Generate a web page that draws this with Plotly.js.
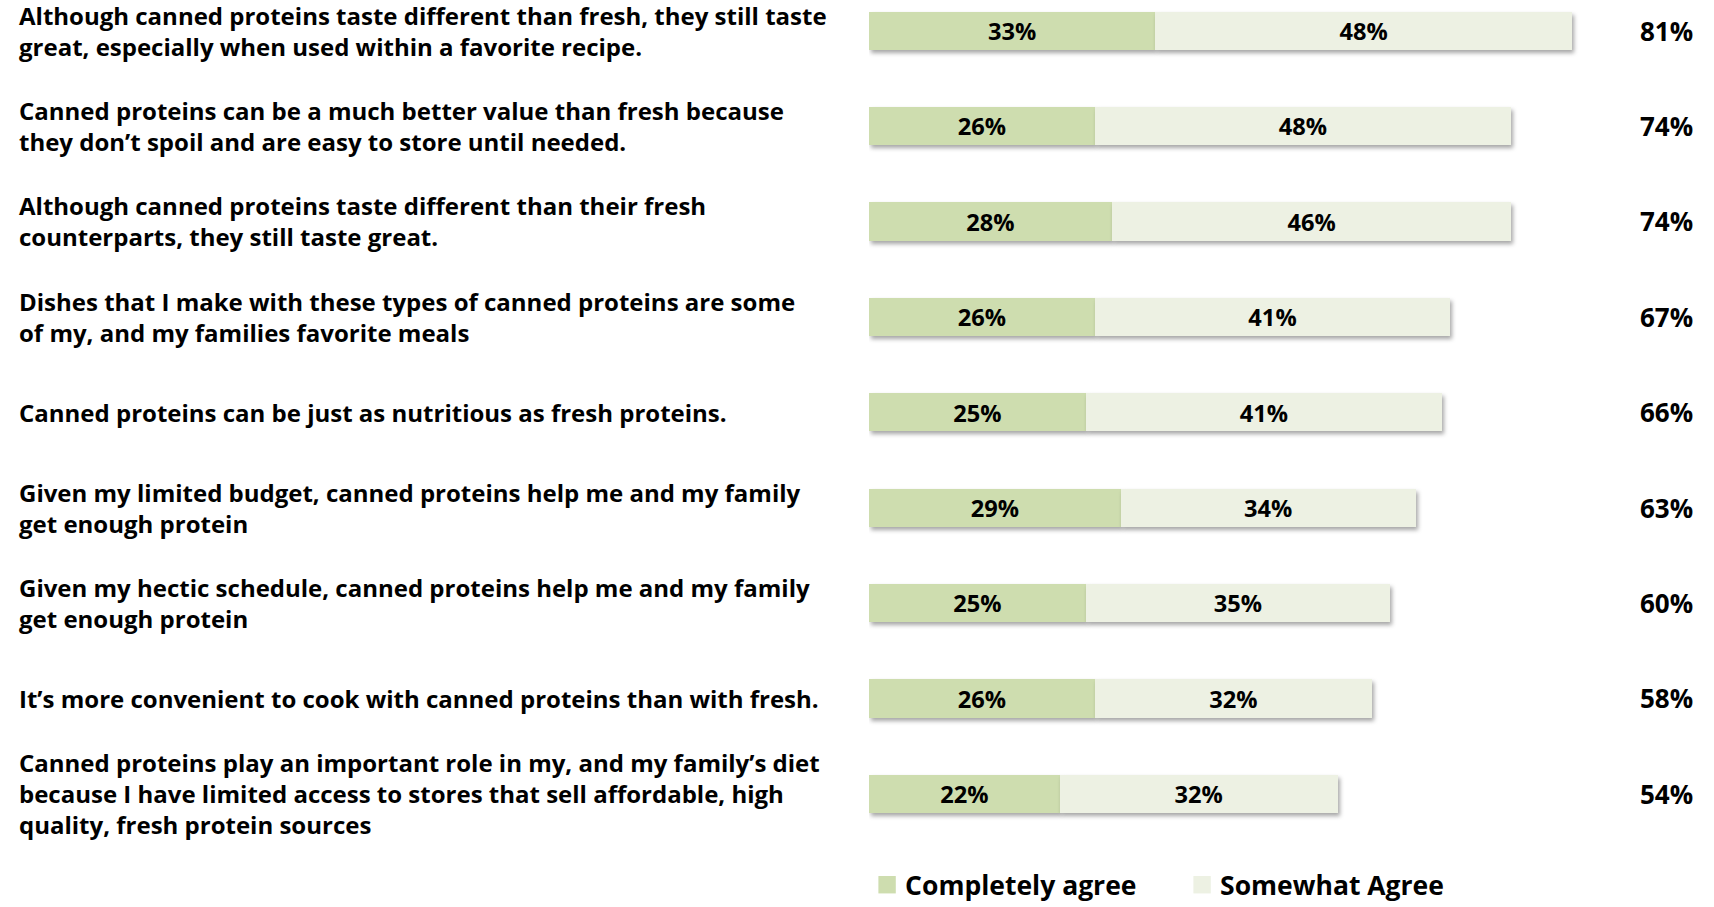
<!DOCTYPE html>
<html>
<head>
<meta charset="utf-8">
<script src="https://cdn.plot.ly/plotly-3.0.1.min.js"></script>
<style>
html,body{margin:0;padding:0;background:#fff;}
#chart{width:1714px;height:907px;}
#chart g.trace.bars path{filter: drop-shadow(2px 3px 2px rgba(0,0,0,0.35));}
#chart g.legendpoints path{transform-box: fill-box; transform-origin: center; scale: 1.45; translate: -7px 0;}
</style>
</head>
<body>
<div id="chart"></div>
<script>
const statements = [
  "Although canned proteins taste different than fresh, they still taste<br>great, especially when used within a favorite recipe.",
  "Canned proteins can be a much better value than fresh because<br>they don’t spoil and are easy to store until needed.",
  "Although canned proteins taste different than their fresh<br>counterparts, they still taste great.",
  "Dishes that I make with these types of canned proteins are some<br>of my, and my families favorite meals",
  "Canned proteins can be just as nutritious as fresh proteins.",
  "Given my limited budget, canned proteins help me and my family<br>get enough protein",
  "Given my hectic schedule, canned proteins help me and my family<br>get enough protein",
  "It’s more convenient to cook with canned proteins than with fresh.",
  "Canned proteins play an important role in my, and my family’s diet<br>because I have limited access to stores that sell affordable, high<br>quality, fresh protein sources"
];
const completelyAgree = [33, 26, 28, 26, 25, 29, 25, 26, 22];
const somewhatAgree   = [48, 48, 46, 41, 41, 34, 35, 32, 32];
const totalAgree      = [81, 74, 74, 67, 66, 63, 60, 58, 54];
const seriesNames = ["Completely agree", "Somewhat Agree"];

const FONT = "'Open Sans', sans-serif";
const ys = statements.map((_, i) => i);

const traces = [
  {
    type: 'bar', orientation: 'h', name: seriesNames[0],
    y: ys, x: completelyAgree,
    marker: {color: '#CEDDAF'},
    width: 0.4,
    text: completelyAgree.map(v => v + '%'),
    textposition: 'inside', insidetextanchor: 'middle',
    textfont: {family: FONT, size: 25, color: '#000', weight: 'bold'},
    hoverinfo: 'skip'
  },
  {
    type: 'bar', orientation: 'h', name: seriesNames[1],
    y: ys, x: somewhatAgree,
    marker: {color: '#EDF1E3'},
    width: 0.4,
    text: somewhatAgree.map(v => v + '%'),
    textposition: 'inside', insidetextanchor: 'middle',
    textfont: {family: FONT, size: 25, color: '#000', weight: 'bold'},
    hoverinfo: 'skip'
  }
];

const annotations = [];
statements.forEach((s, i) => {
  annotations.push({
    xref: 'paper', yref: 'y', x: -1.0903, y: i,
    xanchor: 'left', yanchor: 'middle', align: 'left',
    text: s, showarrow: false,
    font: {family: FONT, size: 24, color: '#000', weight: 'bold'}
  });
  annotations.push({
    xref: 'paper', yref: 'y', x: 1.0205, y: i,
    xanchor: 'center', yanchor: 'middle',
    text: totalAgree[i] + '%', showarrow: false,
    font: {family: FONT, size: 26, color: '#000', weight: 'bold'}
  });
});

const layout = {
  width: 1714, height: 907,
  margin: {l: 869, r: 64, t: 0, b: 67, autoexpand: false},
  paper_bgcolor: '#fff', plot_bgcolor: '#fff',
  barmode: 'stack',
  showlegend: true,
  legend: {
    orientation: 'h', x: -0.005, xanchor: 'left', y: -0.025, yanchor: 'top',
    font: {family: FONT, size: 26.5, color: '#000', weight: 'bold'},
    entrywidth: 270, entrywidthmode: 'pixels',
    itemwidth: 30, borderwidth: 0,
    traceorder: 'normal'
  },
  xaxis: {range: [0, 90], visible: false, fixedrange: true},
  yaxis: {range: [8.484, -0.321], visible: false, fixedrange: true},
  annotations: annotations
};

Plotly.newPlot('chart', traces, layout, {displayModeBar: false, staticPlot: true});
</script>
</body>
</html>
